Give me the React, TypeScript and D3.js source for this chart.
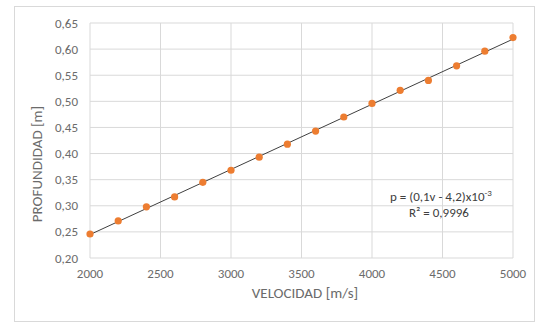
import { useEffect, useRef } from 'react';
import * as d3 from 'd3';

const velocities = [2000, 2200, 2400, 2600, 2800, 3000, 3200, 3400, 3600, 3800, 4000, 4200, 4400, 4600, 4800, 5000];
const depths = [0.246, 0.271, 0.298, 0.317, 0.345, 0.368, 0.393, 0.418, 0.443, 0.470, 0.496, 0.521, 0.540, 0.568, 0.596, 0.622];
const xTicks = [2000, 2500, 3000, 3500, 4000, 4500, 5000];
const yTicks = [0.20, 0.25, 0.30, 0.35, 0.40, 0.45, 0.50, 0.55, 0.60, 0.65];

export default function App() {
  const svgRef = useRef<SVGSVGElement | null>(null);

  useEffect(() => {
    if (!svgRef.current) return;
    const W = 536;
    const H = 323;
    const margin = { top: 23, right: 23, bottom: 65, left: 90 };
    const width = W - margin.left - margin.right;
    const height = H - margin.top - margin.bottom;
    const font = "Carlito, 'Liberation Sans', 'Open Sans', sans-serif";

    const root = d3.select(svgRef.current);
    root.selectAll('*').remove();

    root.append('rect')
      .attr('x', 14.5).attr('y', 6.5)
      .attr('width', W - 16).attr('height', H - 8)
      .attr('fill', '#fff').attr('stroke', '#d9d9d9');

    const svg = root.append('g').attr('transform', `translate(${margin.left},${margin.top})`);

    const x = d3.scaleLinear().domain([2000, 5000]).range([0, width]);
    const y = d3.scaleLinear().domain([0.2, 0.65]).range([height, 0]);

    // gridlines
    svg.selectAll('.gx').data(xTicks).join('line')
      .attr('x1', d => x(d)).attr('x2', d => x(d))
      .attr('y1', 0).attr('y2', height)
      .attr('stroke', '#d9d9d9').attr('stroke-width', 1);
    svg.selectAll('.gy').data(yTicks).join('line')
      .attr('x1', 0).attr('x2', width)
      .attr('y1', d => y(d)).attr('y2', d => y(d))
      .attr('stroke', '#d9d9d9').attr('stroke-width', 1);

    // tick labels
    svg.selectAll('.tx').data(xTicks).join('text')
      .attr('x', d => x(d)).attr('y', height + 20)
      .attr('text-anchor', 'middle')
      .attr('font-family', font).attr('font-size', 13).attr('fill', '#6b6b6b')
      .text(d => String(d));
    svg.selectAll('.ty').data(yTicks).join('text')
      .attr('x', -12).attr('y', d => y(d) + 4.5)
      .attr('text-anchor', 'end')
      .attr('font-family', font).attr('font-size', 13).attr('fill', '#6b6b6b')
      .text(d => d.toFixed(2).replace('.', ','));

    // axis titles
    svg.append('text')
      .attr('x', 215).attr('y', height + 40)
      .attr('text-anchor', 'middle')
      .attr('font-family', font).attr('font-size', 15).attr('fill', '#6b6b6b')
      .text('VELOCIDAD [m/s]');
    svg.append('text')
      .attr('transform', `translate(${-48},${141}) rotate(-90)`)
      .attr('text-anchor', 'middle')
      .attr('font-family', font).attr('font-size', 15).attr('fill', '#6b6b6b')
      .text('PROFUNDIDAD [m]');

    // linear trendline (least squares)
    const mx = d3.mean(velocities) || 0;
    const my = d3.mean(depths) || 0;
    let sxy = 0;
    let sxx = 0;
    velocities.forEach((v, i) => {
      sxy += (v - mx) * (depths[i] - my);
      sxx += (v - mx) * (v - mx);
    });
    const slope = sxy / sxx;
    const icpt = my - slope * mx;
    svg.append('line')
      .attr('x1', x(2000)).attr('y1', y(icpt + slope * 2000))
      .attr('x2', x(5000)).attr('y2', y(icpt + slope * 5000))
      .attr('stroke', '#404040').attr('stroke-width', 1);

    // points
    svg.selectAll('.pt').data(velocities).join('circle')
      .attr('cx', d => x(d))
      .attr('cy', (_, i) => y(depths[i]))
      .attr('r', 3.6)
      .attr('fill', '#ED7D31');

    // equation
    const eq = svg.append('text')
      .attr('x', x(4489)).attr('y', y(0.310))
      .attr('text-anchor', 'middle')
      .attr('font-family', font).attr('font-size', 13).attr('fill', '#404040');
    eq.append('tspan').text('p = (0,1v - 4,2)x10');
    eq.append('tspan').attr('dy', -5).attr('font-size', 9).text('-3');
    svg.append('text')
      .attr('x', x(4475)).attr('y', y(0.279))
      .attr('text-anchor', 'middle')
      .attr('font-family', font).attr('font-size', 13).attr('fill', '#404040')
      .text('R² = 0,9996');
  }, []);

  return <svg ref={svgRef} width={536} height={323} style={{ position: 'absolute', left: 0, top: 0 }}></svg>;
}
